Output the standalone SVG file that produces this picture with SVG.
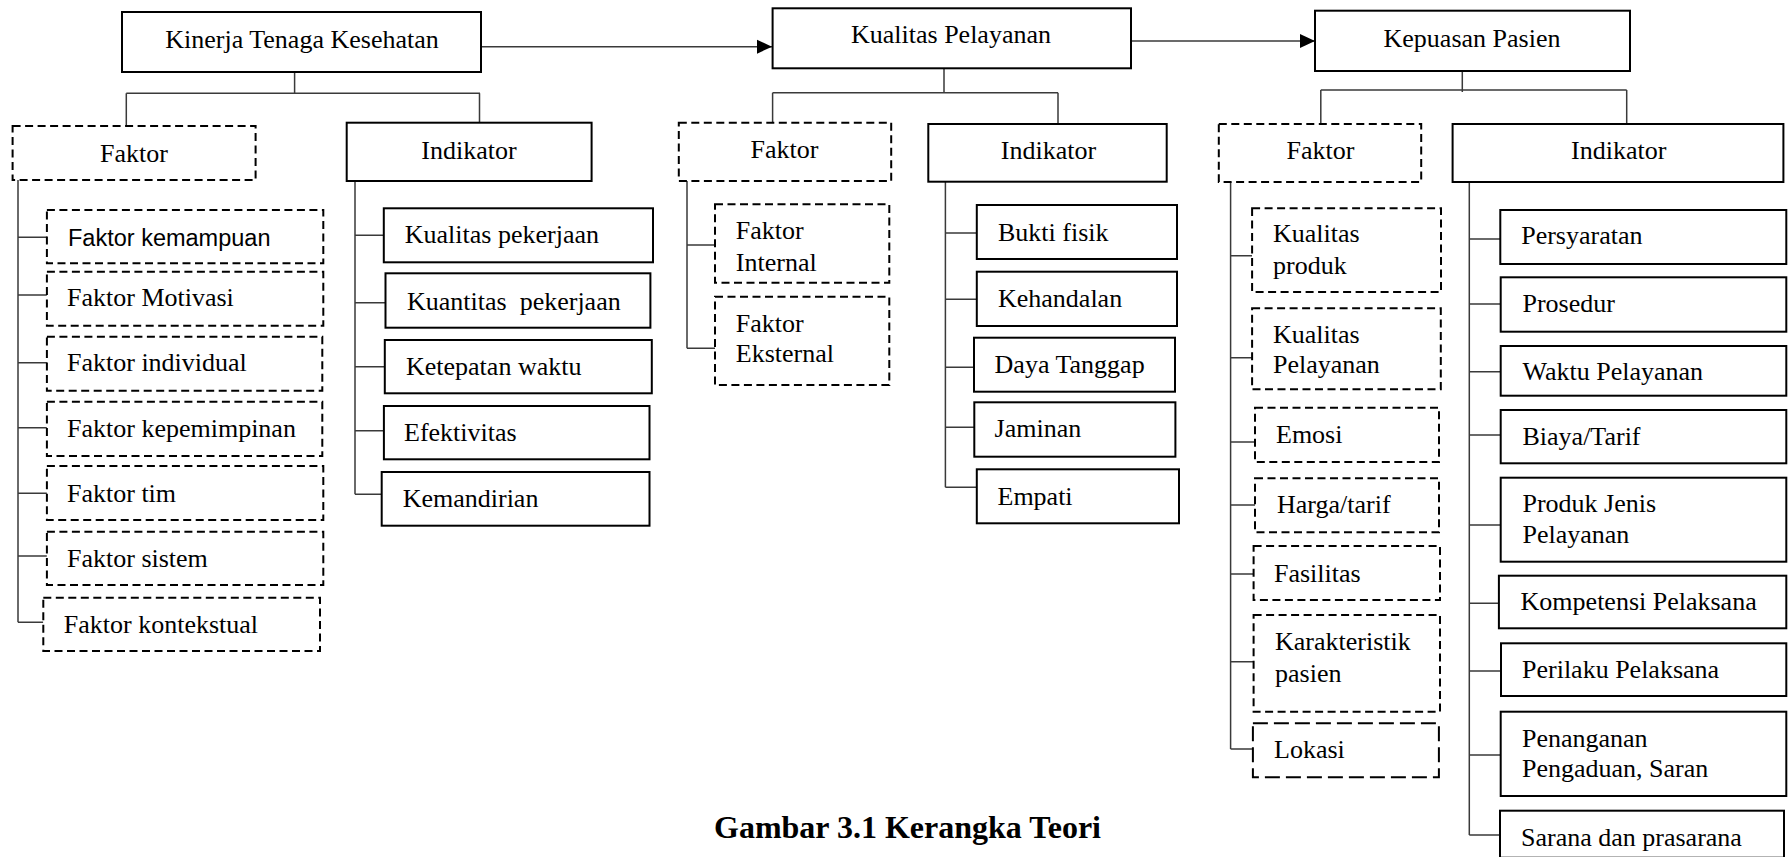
<svg xmlns="http://www.w3.org/2000/svg" width="1788" height="857" viewBox="0 0 1788 857">
<style>
.b{fill:#fff;stroke:#000;stroke-width:2}
.d{fill:#fff;stroke:#000;stroke-width:2;stroke-dasharray:8 4.5}
.c{fill:none;stroke:#3a3a3a;stroke-width:1.5}
.t{font-family:"Liberation Serif","Times New Roman",serif;font-size:26px;fill:#000}
.m{text-anchor:middle}
.s{font-family:"Liberation Sans",Arial,sans-serif;font-size:23.5px;fill:#000}
.cap{font-family:"Liberation Serif","Times New Roman",serif;font-size:32px;font-weight:bold;text-anchor:middle;fill:#000}
</style>
<defs>
<marker id="ah" markerUnits="userSpaceOnUse" markerWidth="16" markerHeight="16" viewBox="0 0 16 16" refX="15" refY="8" orient="auto">
<path d="M0,1 L15,8 L0,15 Z" fill="#000"/>
</marker>
</defs>
<rect width="1788" height="857" fill="#fff"/>
<g id="connectors">
<line class="c" x1="482" y1="46.7" x2="772" y2="46.7" marker-end="url(#ah)"/>
<line class="c" x1="1132" y1="41" x2="1315" y2="41" marker-end="url(#ah)"/>
<path class="c" d="M294.6,72 V93.3 M126.3,93.3 H480 M126.3,93.3 V126 M479.5,93.3 V122.7"/>
<path class="c" d="M18,180 V622.3 M18,237.3 H46.9 M18,295 H46.9 M18,362.7 H46.9 M18,427.7 H46.9 M18,493.3 H46.9 M18,556 H46.9 M18,622.3 H43.3"/>
<path class="c" d="M355,181 V494.3 M355,235.3 H383.8 M355,302.7 H385.5 M355,366.7 H384.8 M355,430.7 H383.9 M355,494.3 H381.7"/>
<path class="c" d="M944,68.3 V92.7 M772.6,92.7 H1058 M772.6,92.7 V122.7 M1058,92.7 V124"/>
<path class="c" d="M687,181 V348.3 M687,245 H715 M687,348.3 H715"/>
<path class="c" d="M945.4,181.7 V487.3 M945.4,233 H976.8 M945.4,299.3 H976.8 M945.4,367.3 H974 M945.4,427.3 H974.3 M945.4,487.3 H976.8"/>
<path class="c" d="M1462.3,71 V92 M1320.8,90 H1626.7 M1320.8,90 V124 M1626.7,90 V124"/>
<path class="c" d="M1230.6,182 V749 M1230.6,255.7 H1252.1 M1230.6,357.7 H1252.1 M1230.6,442 H1255 M1230.6,505 H1255 M1230.6,574 H1253.6 M1230.6,661.7 H1253.6 M1230.6,749 H1252.9"/>
<path class="c" d="M1469.3,182 V835 M1469.3,239 H1500.3 M1469.3,304 H1500.7 M1469.3,371.7 H1500.7 M1469.3,435 H1500.7 M1469.3,525 H1500.7 M1469.3,603.3 H1498.9 M1469.3,671 H1501 M1469.3,755 H1500.7 M1469.3,835 H1500"/>
</g>
<g id="kinerja"><rect class="b" x="122" y="12" width="359" height="60"/><text class="t m" x="302" y="48">Kinerja Tenaga Kesehatan</text></g>
<g id="kualitas-pelayanan"><rect class="b" x="772.6" y="8.3" width="358.4" height="60"/><text class="t m" x="951" y="43.3">Kualitas Pelayanan</text></g>
<g id="kepuasan-pasien"><rect class="b" x="1315" y="10.7" width="315" height="60.3"/><text class="t m" x="1472" y="46.7">Kepuasan Pasien</text></g>

<g id="k-faktor"><rect class="d" x="12.6" y="126" width="243" height="54"/><text class="t m" x="134" y="161.7">Faktor</text></g>
<g id="k-indikator"><rect class="b" x="346.7" y="122.7" width="244.9" height="58.3"/><text class="t m" x="469" y="159.3">Indikator</text></g>
<g id="k-f1"><rect class="d" x="46.9" y="210" width="276.4" height="53.3"/><text class="s" x="68" y="246">Faktor kemampuan</text></g>
<g id="k-f2"><rect class="d" x="46.9" y="271.7" width="276.4" height="54"/><text class="t" x="67" y="306">Faktor Motivasi</text></g>
<g id="k-f3"><rect class="d" x="46.9" y="336.7" width="275.4" height="54"/><text class="t" x="67" y="370.7">Faktor individual</text></g>
<g id="k-f4"><rect class="d" x="46.9" y="401.7" width="275.4" height="54.3"/><text class="t" x="67" y="436.7">Faktor kepemimpinan</text></g>
<g id="k-f5"><rect class="d" x="46.9" y="466" width="276.4" height="54"/><text class="t" x="67" y="501.7">Faktor tim</text></g>
<g id="k-f6"><rect class="d" x="46.9" y="531.7" width="276.4" height="53.3"/><text class="t" x="67" y="567.3">Faktor sistem</text></g>
<g id="k-f7"><rect class="d" x="43.3" y="597.7" width="276.7" height="53.3"/><text class="t" x="63.8" y="633.3">Faktor kontekstual</text></g>
<g id="k-i1"><rect class="b" x="383.8" y="208.3" width="269.2" height="54"/><text class="t" x="404.8" y="243.3">Kualitas pekerjaan</text></g>
<g id="k-i2"><rect class="b" x="385.5" y="273.3" width="264.9" height="54.4"/><text class="t" x="407" y="310" xml:space="preserve">Kuantitas  pekerjaan</text></g>
<g id="k-i3"><rect class="b" x="384.8" y="340" width="267" height="53.3"/><text class="t" x="406" y="375">Ketepatan waktu</text></g>
<g id="k-i4"><rect class="b" x="383.9" y="406" width="265.6" height="53.3"/><text class="t" x="404" y="440.7">Efektivitas</text></g>
<g id="k-i5"><rect class="b" x="381.7" y="472" width="267.8" height="53.7"/><text class="t" x="402.7" y="506.7">Kemandirian</text></g>

<g id="q-faktor"><rect class="d" x="678.8" y="122.7" width="212.4" height="58.3"/><text class="t m" x="784.5" y="158.3">Faktor</text></g>
<g id="q-indikator"><rect class="b" x="928.3" y="124" width="238.4" height="57.7"/><text class="t m" x="1048.5" y="159.3">Indikator</text></g>
<g id="q-f1"><rect class="d" x="715" y="204.3" width="174.3" height="78.4"/><text class="t" x="735.8" y="239.3">Faktor</text><text class="t" x="735.8" y="270.7">Internal</text></g>
<g id="q-f2"><rect class="d" x="715" y="296.7" width="174.3" height="88.3"/><text class="t" x="735.8" y="331.7">Faktor</text><text class="t" x="735.8" y="361.7">Eksternal</text></g>
<g id="q-i1"><rect class="b" x="976.8" y="205" width="200.2" height="54"/><text class="t" x="998" y="240.7">Bukti fisik</text></g>
<g id="q-i2"><rect class="b" x="976.8" y="271.7" width="200.2" height="54.3"/><text class="t" x="998" y="306.7">Kehandalan</text></g>
<g id="q-i3"><rect class="b" x="974" y="337.7" width="201" height="54"/><text class="t" x="994.6" y="373.3">Daya Tanggap</text></g>
<g id="q-i4"><rect class="b" x="974.3" y="402.3" width="201.1" height="54.4"/><text class="t" x="994.6" y="436.7">Jaminan</text></g>
<g id="q-i5"><rect class="b" x="976.8" y="469.3" width="202.2" height="54"/><text class="t" x="997.5" y="505">Empati</text></g>

<g id="p-faktor"><rect class="d" x="1218.8" y="124" width="202.4" height="58"/><text class="t m" x="1320.4" y="159.3">Faktor</text></g>
<g id="p-indikator"><rect class="b" x="1452.6" y="124" width="330.8" height="58"/><text class="t m" x="1618.7" y="159.3">Indikator</text></g>
<g id="p-f1"><rect class="d" x="1252.1" y="208.3" width="188.9" height="83.7"/><text class="t" x="1273" y="241.7">Kualitas</text><text class="t" x="1273" y="274">produk</text></g>
<g id="p-f2"><rect class="d" x="1252.1" y="308.3" width="188.7" height="81"/><text class="t" x="1273" y="343.3">Kualitas</text><text class="t" x="1273" y="373.3">Pelayanan</text></g>
<g id="p-f3"><rect class="d" x="1255" y="407.7" width="184" height="54.3"/><text class="t" x="1276" y="443.3">Emosi</text></g>
<g id="p-f4"><rect class="d" x="1255" y="478.3" width="184" height="54"/><text class="t" x="1277" y="513.3">Harga/tarif</text></g>
<g id="p-f5"><rect class="d" x="1253.6" y="546" width="186.4" height="54"/><text class="t" x="1274" y="581.7">Fasilitas</text></g>
<g id="p-f6"><rect class="d" x="1253.6" y="615" width="186.4" height="96.7"/><text class="t" x="1275" y="650">Karakteristik</text><text class="t" x="1275" y="681.7">pasien</text></g>
<g id="p-f7"><rect class="d" x="1252.9" y="723.3" width="186" height="54" style="stroke-dasharray:15 6"/><text class="t" x="1274" y="758.3">Lokasi</text></g>
<g id="p-i1"><rect class="b" x="1500.3" y="210" width="286" height="54"/><text class="t" x="1521.2" y="244.3">Persyaratan</text></g>
<g id="p-i2"><rect class="b" x="1500.7" y="277.3" width="285.6" height="54.4"/><text class="t" x="1522.5" y="311.7">Prosedur</text></g>
<g id="p-i3"><rect class="b" x="1500.7" y="346" width="285.6" height="49.7"/><text class="t" x="1522.5" y="380">Waktu Pelayanan</text></g>
<g id="p-i4"><rect class="b" x="1500.7" y="410" width="285.6" height="53.3"/><text class="t" x="1522.5" y="445">Biaya/Tarif</text></g>
<g id="p-i5"><rect class="b" x="1500.7" y="477.7" width="285.6" height="84"/><text class="t" x="1522.5" y="511.7">Produk Jenis</text><text class="t" x="1522.5" y="543.3">Pelayanan</text></g>
<g id="p-i6"><rect class="b" x="1498.9" y="575.7" width="287.4" height="52.6"/><text class="t" x="1520.6" y="610">Kompetensi Pelaksana</text></g>
<g id="p-i7"><rect class="b" x="1501" y="643.3" width="285.3" height="52.7"/><text class="t" x="1522" y="678.3">Perilaku Pelaksana</text></g>
<g id="p-i8"><rect class="b" x="1500.7" y="711.7" width="285.6" height="84.3"/><text class="t" x="1522" y="746.7">Penanganan</text><text class="t" x="1522" y="777.3">Pengaduan, Saran</text></g>
<g id="p-i9"><rect class="b" x="1500" y="810.7" width="284" height="47"/><text class="t" x="1521" y="846">Sarana dan prasarana</text></g>

<text class="cap" x="907.5" y="838">Gambar 3.1 Kerangka Teori</text>
</svg>
